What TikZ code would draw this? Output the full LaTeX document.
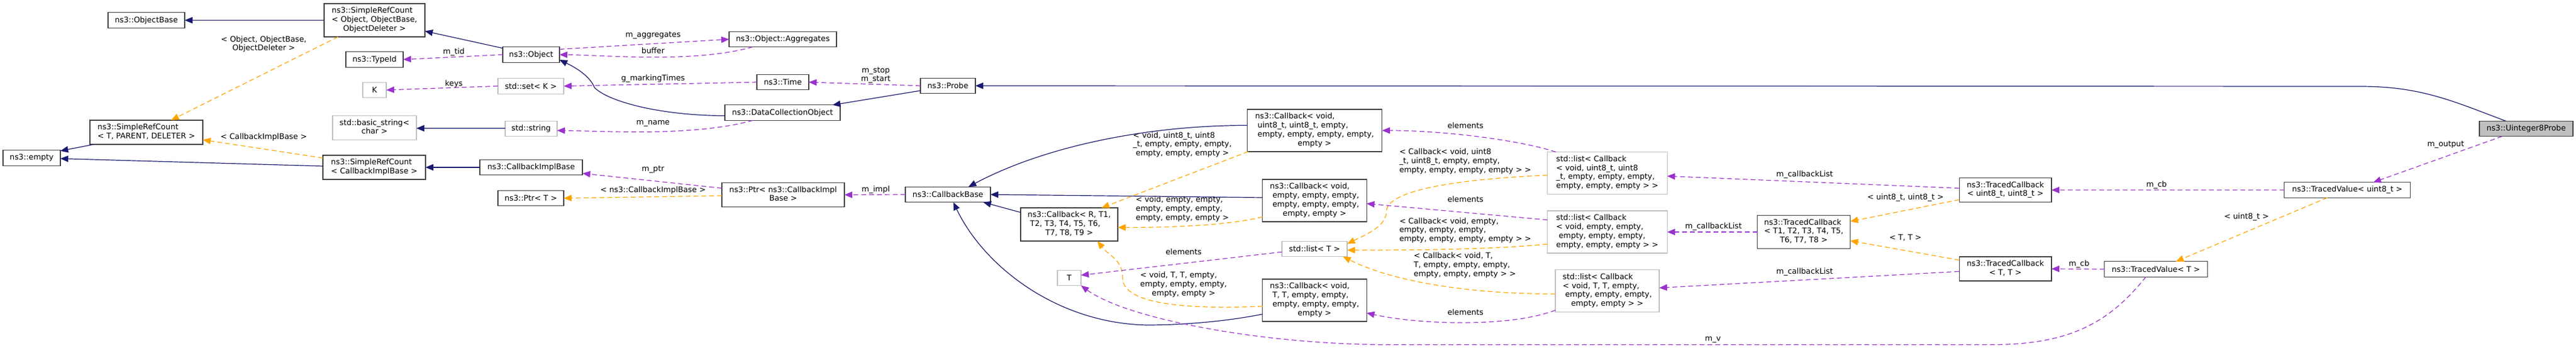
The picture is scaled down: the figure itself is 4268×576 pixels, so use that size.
\documentclass[tikz,border=0pt]{standalone}
\usepackage{fontspec}
\setmainfont{DejaVu Sans}
\usetikzlibrary{arrows.meta}
\usetikzlibrary{calc}

\definecolor{inhcol}{HTML}{191970}
\definecolor{usecol}{HTML}{9A32CD}
\definecolor{tplcol}{HTML}{FFA500}
\definecolor{boxline}{HTML}{404040}
\definecolor{extline}{HTML}{BFBFBF}

\newcommand{\dxfont}{\fontsize{12.85}{14.85}\selectfont}
\newcommand{\dxlines}[1]{\begin{tabular}{@{}l@{}}#1\end{tabular}}
\newcommand{\dxlast}[1]{\multicolumn{1}{@{}c@{}}{#1}}

\begin{document}
\begin{tikzpicture}[x=1bp, y=-1bp,
  cls/.style={rectangle, draw=boxline, line width=1.3bp, fill=white, minimum height=25.4bp,
    inner xsep=3bp, inner ysep=5.3bp, outer sep=0pt, font=\dxfont},
  ext/.style={cls, draw=extline},
  cur/.style={cls, fill=extline},
  wd/.style={minimum width=#1bp},
  lbl/.style={font=\dxfont, inner sep=0pt, align=center},
  inherit/.style={draw=inhcol, line width=1.2bp, -{Triangle[length=13bp,width=10.5bp]}},
  use/.style={draw=usecol, line width=1.2bp, dash pattern=on 8bp off 5bp, -{Triangle[length=13bp,width=10.5bp]}},
  tpl/.style={draw=tplcol, line width=1.2bp, dash pattern=on 8bp off 5bp, -{Triangle[length=13bp,width=10.5bp]}}]
\useasboundingbox (0,0) rectangle (4268,576);

% classes
\node[cls] (empty) at (52.5,261.5) [wd=95] {ns3::empty};
\node[cls] (objectBase) at (242.5,33.5) [wd=127] {ns3::ObjectBase};
\node[cls] (srcTPD) at (242.5,219) [wd=187] {\dxlines{ns3::SimpleRefCount\\\dxlast{< T, PARENT, DELETER >}}};
\node[cls] (srcObj) at (620.5,33.5) [wd=167] {\dxlines{ns3::SimpleRefCount\\< Object, ObjectBase,\\\dxlast{ObjectDeleter >}}};
\node[cls] (typeId) at (620.5,98.5) [wd=95] {ns3::TypeId};
\node[ext] (K) at (620.5,149) [wd=39] {K};
\node[ext] (basicStr) at (620.5,211.5) [wd=139] {\dxlines{std::basic\_string<\\\dxlast{char >}}};
\node[cls] (srcCIB) at (620,277) [wd=170] {\dxlines{ns3::SimpleRefCount\\\dxlast{< CallbackImplBase >}}};
\node[cls] (object) at (880,90.5) [wd=94] {ns3::Object};
\node[ext] (setK) at (879.5,142.5) [wd=109] {std::set< K >};
\node[ext] (stdStr) at (880,213) [wd=86] {std::string};
\node[cls] (cib) at (880,277) [wd=170] {ns3::CallbackImplBase};
\node[cls] (ptrT) at (879.5,328) [wd=109] {ns3::Ptr< T >};
\node[cls] (aggr) at (1297,65) [wd=178] {ns3::Object::Aggregates};
\node[cls] (time) at (1297,136) [wd=86] {ns3::Time};
\node[cls] (dco) at (1296.5,186.5) [wd=191] {ns3::DataCollectionObject};
\node[cls] (ptrCIB) at (1297.5,322.5) [wd=203] {\dxlines{ns3::Ptr< ns3::CallbackImpl\\\dxlast{Base >}}};
\node[cls] (probe) at (1570.5,142) [wd=91] {ns3::Probe};
\node[cls] (cbBase) at (1570.5,322) [wd=141] {ns3::CallbackBase};
\node[cls] (cbR) at (1771.5,371.5) [wd=161] {\dxlines{ns3::Callback< R, T1,\\\ T2, T3, T4, T5, T6,\\\dxlast{T7, T8, T9 >}}};
\node[ext] (tNode) at (1771.5,460) [wd=39] {T};
\node[cls] (cbU8) at (2178,216) [wd=223.5] {\dxlines{ns3::Callback< void,\\\ uint8\_t, uint8\_t, empty,\\\ empty, empty, empty, empty,\\\dxlast{empty >}}};
\node[cls] (cbE) at (2178,332) [wd=172.5] {\dxlines{ns3::Callback< void,\\\ empty, empty, empty,\\\ empty, empty, empty,\\\dxlast{empty, empty >}}};
\node[ext] (listT) at (2178,412) [wd=108] {std::list< T >};
\node[cls] (cbTT) at (2178,497) [wd=172.5] {\dxlines{ns3::Callback< void,\\\ T, T, empty, empty,\\\ empty, empty, empty,\\\dxlast{empty >}}};
\node[ext] (listU8) at (2663,286.5) [wd=198.5] {\dxlines{std::list< Callback\\< void, uint8\_t, uint8\\\_t, empty, empty, empty,\\\dxlast{empty, empty, empty > >}}};
\node[ext] (listE) at (2663,384) [wd=198.5] {\dxlines{std::list< Callback\\< void, empty, empty,\\\ empty, empty, empty,\\\dxlast{empty, empty, empty > >}}};
\node[ext] (listTT) at (2663,481.5) [wd=172] {\dxlines{std::list< Callback\\< void, T, T, empty,\\\ empty, empty, empty,\\\dxlast{empty, empty > >}}};
\node[cls] (tc8) at (2988.5,384) [wd=154] {\dxlines{ns3::TracedCallback\\< T1, T2, T3, T4, T5,\\\dxlast{T6, T7, T8 >}}};
\node[cls] (tcU8) at (3322.5,314.5) [wd=152.7] {\dxlines{ns3::TracedCallback\\\dxlast{< uint8\_t, uint8\_t >}}};
\node[cls] (tcTT) at (3322.5,445) [wd=152.7] {\dxlines{ns3::TracedCallback\\\dxlast{< T, T >}}};
\node[cls] (tvT) at (3572,445.5) [wd=170.4] {ns3::TracedValue< T >};
\node[cls] (tvU8) at (3889,314.5) [wd=208.5] {ns3::TracedValue< uint8\_t >};
\node[cur] (u8probe) at (4185.5,213) [wd=155] {ns3::Uinteger8Probe};

% inheritance
\draw[inherit] (srcObj.west) -- (objectBase.east);
\draw[inherit] ($(srcTPD.south west)+(6,0)$) -- ($(empty.north east)+(0,1)$);
\draw[inherit] ($(srcCIB.west)+(0,-2)$) -- ($(empty.east)+(0,1)$);
\draw[inherit] ($(object.north west)+(0,2)$) -- ($(srcObj.east)+(0,18)$);
\draw[inherit] ($(dco.west)+(0,5)$) .. controls +(-100,0) and +(25,25) .. (985,145)
  .. controls +(-8,-20) and +(25,12) .. ($(object.east)+(0,8.5)$);
\draw[inherit] ($(stdStr.west)+(0,-0.7)$) -- ($(basicStr.east)+(0,0.8)$);
\draw[inherit] (cib.west) -- (srcCIB.east);
\draw[inherit] ($(probe.west)+(0,8)$) -- ($(dco.north)+(83,0)$);
\draw[inherit] ($(u8probe.north)+(-34,0)$) .. controls +(-90,-34) and +(100,0) .. (3910,143) -- (probe.east);
\draw[inherit] ($(cbU8.west)+(0,-8.5)$) .. controls +(-166,0) and +(126,-67) .. ($(cbBase.north)+(34,0)$);
\draw[inherit] ($(cbE.west)+(0,-5)$) -- (cbBase.east);
\draw[inherit] ($(cbR.north west)+(0,7.6)$) -- ($(cbBase.south east)+(-12,0)$);
\draw[inherit] ($(cbTT.west)+(0,23)$) .. controls +(-60,12) and +(60,0) .. (1900,538)
  .. controls +(-150,-3) and +(50,105) .. ($(cbBase.south)+(9,0)$);

% template instances
\draw[tpl] ($(srcObj.south west)+(23,0)$) -- ($(srcTPD.north)+(41,0)$)
  node[lbl] at (437,73.5) {\dxlines{< Object, ObjectBase,\\\dxlast{ObjectDeleter >}}};
\draw[tpl] ($(srcCIB.west)+(0,-15.5)$) -- ($(srcTPD.east)+(0,12.4)$)
  node[lbl] at (437,227) {< CallbackImplBase >};
\draw[tpl] ($(ptrCIB.west)+(0,1.5)$) -- (ptrT.east)
  node[lbl] at (1082,315) {< ns3::CallbackImplBase >};
\draw[tpl] ($(cbU8.south west)+(2,0)$) -- ($(cbR.north east)+(-27,0)$)
  node[lbl] at (1959,240) {\dxlines{< void, uint8\_t, uint8\\\_t, empty, empty, empty,\\\dxlast{empty, empty, empty >}}};
\draw[tpl] ($(cbE.west)+(0,27)$) .. controls +(-60,15) and +(80,0) .. ($(cbR.east)+(0,5)$)
  node[lbl] at (1959,346.4) {\dxlines{< void, empty, empty,\\empty, empty, empty,\\\dxlast{empty, empty, empty >}}};
\draw[tpl] ($(cbTT.west)+(0,10)$) .. controls +(-120,5) and +(0,45) .. (1860,460)
  .. controls +(0,-30) and +(20,25) .. ($(cbR.south)+(46.5,0)$)
  node[lbl] at (1961,471.7) {\dxlines{< void, T, T, empty,\\empty, empty, empty,\\\dxlast{empty, empty >}}};
\draw[tpl] ($(listU8.west)+(0,3.5)$) .. controls +(-180,8) and +(0,-30) .. (2297,350)
  .. controls +(0,25) and +(30,-15) .. ($(listT.north east)+(0,4.4)$)
  node[lbl] at (2427.7,267.8) {\dxlines{< Callback< void, uint8\\\_t, uint8\_t, empty, empty,\\\dxlast{empty, empty, empty, empty > >}}};
\draw[tpl] ($(listE.west)+(0,20)$) .. controls +(-100,10) and +(80,0) .. ($(listT.east)+(0,2)$)
  node[lbl] at (2427.7,382) {\dxlines{< Callback< void, empty,\\empty, empty, empty,\\\dxlast{empty, empty, empty, empty > >}}};
\draw[tpl] ($(listTT.west)+(0,5)$) .. controls +(-150,0) and +(80,40) .. ($(listT.south east)+(-7,0)$)
  node[lbl] at (2427,439.7) {\dxlines{< Callback< void, T,\\T, empty, empty, empty,\\\dxlast{empty, empty, empty > >}}};
\draw[tpl] ($(tcU8.west)+(0,16)$) -- ($(tc8.east)+(0,-17.5)$)
  node[lbl] at (3157,327) {< uint8\_t, uint8\_t >};
\draw[tpl] ($(tcTT.west)+(0,-14.5)$) -- ($(tc8.east)+(0,14.5)$)
  node[lbl] at (3157,394) {< T, T >};
\draw[tpl] ($(tvU8.south)+(-33,0)$) -- ($(tvT.north)+(33,0)$)
  node[lbl] at (3722,359) {< uint8\_t >};

% members
\draw[use] (object.west) -- (typeId.east) node[lbl] at (752,86) {m\_tid};
\draw[use] ($(object.east)+(0,-9)$) -- (aggr.west) node[lbl] at (1082,58.8) {m\_aggregates};
\draw[use] ($(aggr.south)+(-50,0)$) .. controls +(-97,27) and +(83,1) .. (object.east)
  node[lbl] at (1082,83.4) {buffer};
\draw[use] (setK.west) -- (K.east) node[lbl] at (752,138.5) {keys};
\draw[use] (time.west) -- (setK.east) node[lbl] at (1082,130) {g\_markingTimes};
\draw[use] ($(dco.south)+(-49,0)$) .. controls +(-97,27) and +(83,1) .. ($(stdStr.east)+(0,3)$)
  node[lbl] at (1082,204.6) {m\_name};
\draw[use] (probe.west) -- (time.east) node[lbl] at (1451,124.5) {m\_stop\\m\_start};
\draw[use] ($(ptrCIB.west)+(0,-11)$) -- ($(cib.east)+(0,10)$) node[lbl] at (1082,281) {m\_ptr};
\draw[use] (cbBase.west) -- (ptrCIB.east) node[lbl] at (1451,314) {m\_impl};
\draw[use] ($(listT.west)+(0,5)$) -- ($(tNode.east)+(0,-4.5)$) node[lbl] at (1961,416.6) {elements};
\draw[use] ($(listU8.north west)+(14,0)$) .. controls +(-60,-20) and +(100,0) .. (cbU8.east)
  node[lbl] at (2428,207.6) {elements};
\draw[use] ($(listE.west)+(0,-20)$) -- ($(cbE.east)+(0,5)$) node[lbl] at (2428,330) {elements};
\draw[use] ($(listTT.west)+(0,32)$) .. controls +(-80,30) and +(80,18) .. ($(cbTT.east)+(0,21)$)
  node[lbl] at (2428,516.5) {elements};
\draw[use] ($(tcU8.west)+(0,-3)$) -- ($(listU8.east)+(0,5)$) node[lbl] at (2990,288.8) {m\_callbackList};
\draw[use] (tc8.west) -- (listE.east) node[lbl] at (2839,375.5) {m\_callbackList};
\draw[use] ($(tcTT.west)+(0,4.3)$) -- ($(listTT.east)+(0,-5)$) node[lbl] at (2990,450) {m\_callbackList};
\draw[use] (tvU8.west) -- (tcU8.east) node[lbl] at (3573,306.4) {m\_cb};
\draw[use] (tvT.west) -- (tcTT.east) node[lbl] at (3444.6,437) {m\_cb};
\draw[use] ($(tvT.south)+(-16.6,0)$) .. controls +(-60,75) and +(130,0) .. (3300,570.5) -- (2300,570.5)
  .. controls +(-200,0) and +(79,57) .. (tNode.south east) node[lbl] at (2838,562) {m\_v};
\draw[use] ($(u8probe.south)+(-40,0)$) -- ($(tvU8.north)+(43,0)$) node[lbl] at (4052,239.5) {m\_output};
\end{tikzpicture}
\end{document}
